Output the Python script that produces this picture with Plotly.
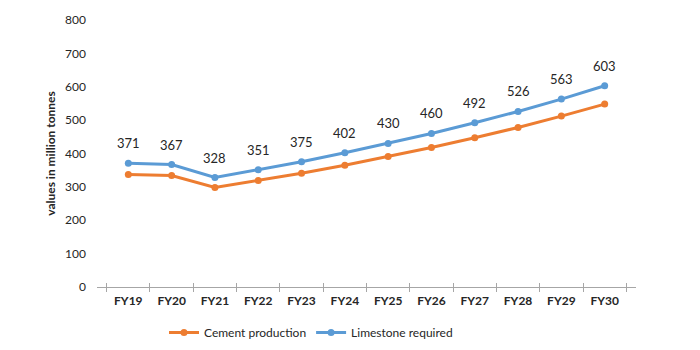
import plotly.graph_objects as go

years = ["FY19", "FY20", "FY21", "FY22", "FY23", "FY24", "FY25", "FY26", "FY27", "FY28", "FY29", "FY30"]
cement = [337, 334, 298, 319, 341, 365, 391, 418, 447, 478, 512, 548]
limestone = [371, 367, 328, 351, 375, 402, 430, 460, 492, 526, 563, 603]
y_ticks = [0, 100, 200, 300, 400, 500, 600, 700, 800]

FONT = "Lato, Open Sans, sans-serif"

fig = go.Figure()
fig.add_trace(go.Scatter(
    x=years, y=cement, name="Cement production", mode="lines+markers",
    line=dict(color="#ED7D31", width=3), marker=dict(size=7, color="#ED7D31"),
))
fig.add_trace(go.Scatter(
    x=years, y=limestone, name="Limestone required", mode="lines+markers",
    line=dict(color="#5B9BD5", width=3), marker=dict(size=7, color="#5B9BD5"),
))
# invisible trace on an overlaid axis to get inward tick marks (crossing ticks)
fig.add_trace(go.Scatter(x=years, y=limestone, xaxis="x2", mode="none",
                         showlegend=False, hoverinfo="skip"))

for yr, v in zip(years, limestone):
    fig.add_annotation(x=yr, y=v, text=str(v), showarrow=False, yshift=20,
                       font=dict(family=FONT, size=13, color="#262626"))

fig.update_layout(
    width=700, height=350,
    margin=dict(l=97, r=64, t=20, b=63, autoexpand=False),
    paper_bgcolor="white", plot_bgcolor="white",
    font=dict(family=FONT, color="#262626"),
    showlegend=True,
    legend=dict(orientation="h", x=0.397, xanchor="center",
                yref="container", y=0.05, yanchor="middle",
                font=dict(size=12, color="#262626"), tracegroupgap=0),
    xaxis=dict(
        type="category", showgrid=False, showline=True, linecolor="#A6A6A6", linewidth=1,
        ticks="outside", tickson="boundaries", ticklen=4, tickcolor="#A6A6A6",
        tickfont=dict(size=12, color="#262626", family=FONT),
        ticklabelstandoff=3,
        tickprefix="<b>", ticksuffix="</b>",
    ),
    xaxis2=dict(type="category", overlaying="x", matches="x", side="bottom",
                showgrid=False, showline=False, showticklabels=False,
                ticks="inside", tickson="boundaries", ticklen=4, tickcolor="#A6A6A6"),
    yaxis=dict(
        range=[0, 800], tickvals=y_ticks, showgrid=False, showline=False, zeroline=False,
        tickfont=dict(size=12, color="#262626"), ticklabelstandoff=10,
        tickprefix="<b>", ticksuffix="</b>",
        title=dict(text="<b>values in million tonnes</b>", font=dict(size=12, color="#262626"), standoff=6),
    ),
)

fig.write_html("out.html")
